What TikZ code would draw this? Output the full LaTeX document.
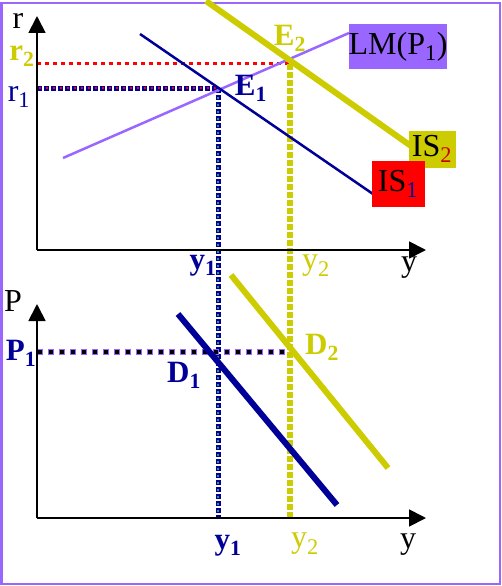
\documentclass[tikz,border=0pt]{standalone}
\usepackage{fontspec}
\setmainfont{Liberation Serif}
\usetikzlibrary{arrows.meta}
\definecolor{navy}{HTML}{000099}
\definecolor{olive}{HTML}{CCCC00}
\definecolor{lilac}{HTML}{9966FF}
\definecolor{dotgreen}{HTML}{339966}
\tikzset{
  axis/.style={line width=1.8pt,-{Triangle[length=17pt,width=17pt]}},
  lbl/.style={inner sep=0pt,font=\fontsize{32}{34}\selectfont},
  blbl/.style={inner sep=0pt,font=\fontsize{31}{34}\selectfont\bfseries},
}
\begin{document}
\begin{tikzpicture}[x=1pt,y=-1pt]
\useasboundingbox (0,0) rectangle (502,586);
\draw[lilac,line width=2.5pt] (1.5,3) rectangle (500,584);
% ---------- top panel ----------
\coordinate (O1) at (37,250);
\coordinate (Ytop) at (37,16);
\coordinate (Xtop) at (426,250);
\coordinate (E1) at (218,88);
\coordinate (E2) at (290,64);
\coordinate (r1a) at (37,88);
\coordinate (r2a) at (37,64);
\coordinate (y1e) at (218,518);
\coordinate (y2e) at (290,518);
% dotted guides
\draw[red,line width=3pt,dash pattern=on 4pt off 4pt] (r2a) -- (E2);
\draw[navy,line width=5pt,dash pattern=on 5pt off 2pt] (r1a) -- (E1);
\draw[red,line width=2pt,dash pattern=on 2pt off 5pt,dash phase=-1.5pt] (r1a) -- (E1);
\draw[navy,line width=5pt,dash pattern=on 5pt off 2pt] (E1) -- (y1e);
\draw[dotgreen,line width=2pt,dash pattern=on 2pt off 5pt,dash phase=-1.5pt] (E1) -- (y1e);
\draw[olive,line width=6pt,dash pattern=on 6pt off 2pt] (E2) -- (y2e);
% curves
\coordinate (LMa) at (63,158);
\coordinate (LMb) at (349,33);
\coordinate (IS1a) at (140,34);
\coordinate (IS1b) at (373,194);
\coordinate (IS2a) at (206,1);
\coordinate (IS2b) at (411,146);
\draw[lilac,line width=2.5pt] (LMa) -- (LMb);
\draw[navy,line width=2.5pt] (IS1a) -- (IS1b);
\draw[olive,line width=6pt] (IS2a) -- (IS2b);
% axes
\draw[axis] (O1) -- (Ytop);
\draw[axis] (O1) -- (Xtop);
% labels
\node[lbl,anchor=center] (rl) at (18,21) {r};
\node[blbl,olive,anchor=center] (r2l) at (22,56) {r\textsubscript{2}};
\node[lbl,navy,anchor=center] (r1l) at (19,97) {r\textsubscript{1}};
\node[blbl,navy,anchor=center] (E1l) at (251,88) {E\textsubscript{1}};
\node[blbl,olive,anchor=center] (E2l) at (290,38) {E\textsubscript{2}};
\node[lbl,fill=lilac,anchor=center,minimum width=98pt,minimum height=45pt] (LMl) at (398,47) {LM(P\textsubscript{1})};
\node[lbl,fill=olive,anchor=center,minimum width=47pt,minimum height=37pt] (IS2l) at (432,149) {IS\textsubscript{\textcolor{red!80!black}{2}}};
\node[lbl,fill=red,anchor=center,minimum width=53pt,minimum height=46pt] (IS1l) at (398,184) {IS\textsubscript{\textcolor{navy}{1}}};
\node[blbl,navy,anchor=center] (y1t) at (203,266) {y\textsubscript{1}};
\node[lbl,olive,anchor=center] (y2t) at (316,266) {y\textsubscript{2}};
\node[lbl,anchor=center] (yt) at (409,268) {y};
% ---------- bottom panel ----------
\coordinate (O2) at (37,518);
\coordinate (Ybot) at (37,304);
\coordinate (Xbot) at (426,518);
\coordinate (P1a) at (37,352);
\coordinate (P1b) at (290,352);
\draw[lilac,line width=6pt,dash pattern=on 6pt off 5pt] (P1a) -- (P1b);
\draw[black,line width=3.5pt,dash pattern=on 3.5pt off 7.5pt,dash phase=-1.25pt] (P1a) -- (P1b);
\coordinate (D1a) at (178,314);
\coordinate (D1b) at (337,505);
\coordinate (D2a) at (231,275);
\coordinate (D2b) at (388,468);
\draw[navy,line width=6pt] (D1a) -- (D1b);
\draw[olive,line width=6pt] (D2a) -- (D2b);
\draw[axis] (O2) -- (Ybot);
\draw[axis] (O2) -- (Xbot);
\node[lbl,anchor=center] (Pl) at (13,301) {P};
\node[blbl,navy,anchor=center] (P1l) at (21,353) {P\textsubscript{1}};
\node[blbl,navy,anchor=center] (D1l) at (184,375) {D\textsubscript{1}};
\node[blbl,olive,anchor=center] (D2l) at (322,347) {D\textsubscript{2}};
\node[blbl,navy,anchor=center] (y1b) at (228,546) {y\textsubscript{1}};
\node[lbl,olive,anchor=center] (y2bl) at (305,544) {y\textsubscript{2}};
\node[lbl,anchor=center] (yb) at (408,545) {y};
\end{tikzpicture}
\end{document}
